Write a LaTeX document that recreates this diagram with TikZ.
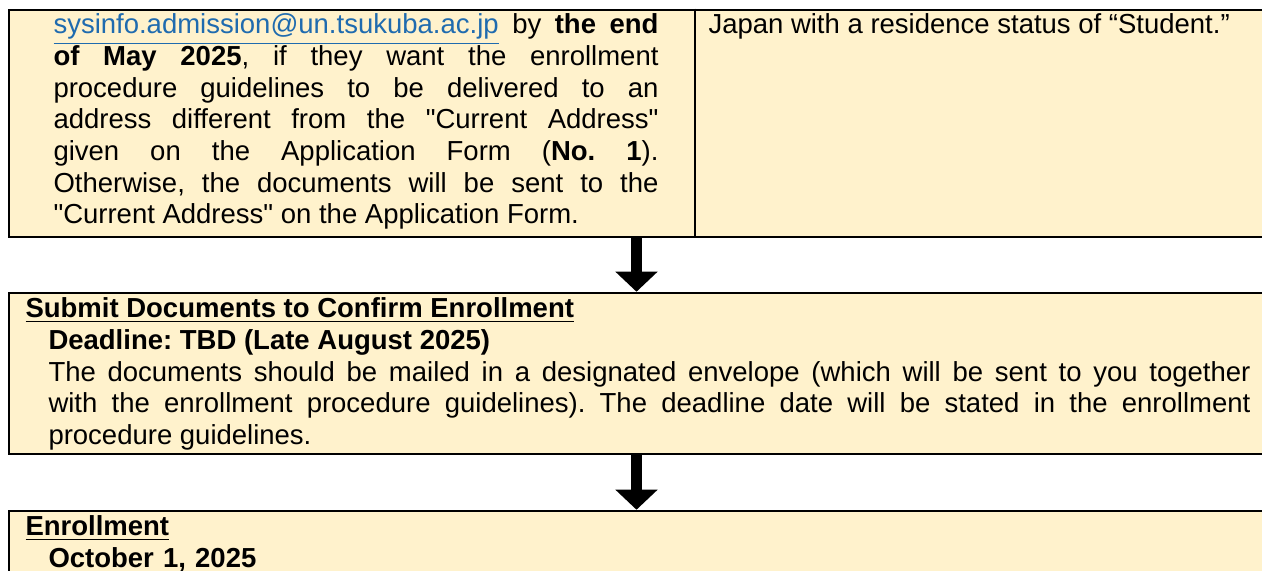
\documentclass[tikz,border=0pt]{standalone}
\usepackage{fontspec}
\setmainfont{Liberation Sans}
\usetikzlibrary{arrows.meta,fit,positioning}
\definecolor{cream}{HTML}{FFF2CC}
\definecolor{linkblue}{HTML}{1F6BAF}

\begin{document}
\begin{tikzpicture}[x=0.4pt,y=-0.4pt,
		box/.style={draw,line width=1pt,fill=cream,inner sep=0pt},
		txt/.style={inner sep=0pt,anchor=base west,font=\fontsize{11pt}{12.65pt}\selectfont\frenchspacing},
		flow/.style={line width=4.4pt,-{Triangle[width=16.4pt,length=8pt]}}]
		\useasboundingbox (0,0) rectangle (1262,571);
		\clip (0,0) rectangle (1262,571);
		% boxes
		\node[box,fit={(9,10) (1290,237)}] (mail) {};
		\node[box,fit={(9,293) (1290,454)}] (submit) {};
		\node[box,fit={(9,511) (1290,650)}] (enroll) {};
		\coordinate (split) at (695,0);
		\coordinate (flowx) at (636.5,0);
		\draw[line width=0.6pt] (mail.north -| split) -- (mail.south -| split);

		% texts
		\node[txt,text width=242pt,align=justify] (mailtxt) at (53,34)
			{\textcolor{linkblue}{\underline{sysinfo.admission@un.tsukuba.ac.jp}} by \textbf{the end}\linebreak
			\textbf{of May 2025}, if they want the enrollment\linebreak
			procedure guidelines to be delivered to an\linebreak
			address different from the \textquotedbl Current Address\textquotedbl\linebreak
			given on the Application Form (\textbf{No. 1}).\linebreak
			Otherwise, the documents will be sent to the\linebreak
			\textquotedbl Current Address\textquotedbl{} on the Application Form.};
		\node[txt] (status) at (708,34) {Japan with a residence status of “Student.”};
		\node[txt,text width=490pt,align=justify] (submittxt) at (25,318)
			{\underline{\textbf{Submit Documents to Confirm Enrollment}}\par
			{\leftskip=9.2pt\relax \textbf{Deadline: TBD (Late August 2025)}\par
			The documents should be mailed in a designated envelope (which will be sent to you together\linebreak
			with the enrollment procedure guidelines). The deadline date will be stated in the enrollment\linebreak
			procedure guidelines.\par}};
		\node[txt,text width=490pt] (enrolltxt) at (25,536)
			{\underline{\textbf{Enrollment}}\par
			{\leftskip=9.2pt\relax \textbf{October 1, 2025}\par}};

		% arrows
		\draw[flow] (mail.south -| flowx) -- (submit.north -| flowx);
		\draw[flow] (submit.south -| flowx) -- (enroll.north -| flowx);
\end{tikzpicture}
\end{document}
